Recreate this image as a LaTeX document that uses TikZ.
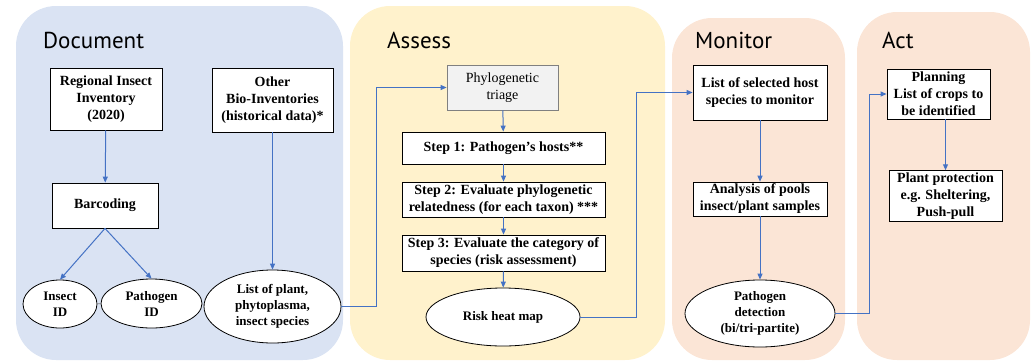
\documentclass[tikz,border=0pt]{standalone}
\usepackage{fontspec}
\setmainfont{Liberation Serif}
\newfontfamily\headfont{PT Sans}
\usetikzlibrary{arrows.meta,positioning,shapes.geometric}
\definecolor{docblue}{HTML}{DAE3F3}
\definecolor{assyellow}{HTML}{FFF2CC}
\definecolor{monpeach}{HTML}{FBE5D6}
\definecolor{flowblue}{HTML}{4472C4}
\definecolor{triagegray}{HTML}{F2F2F2}
\tikzset{
    panel/.style={rounded corners=40pt},
    phase/.style={anchor=base west, inner sep=0pt, font=\headfont\fontsize{23}{23}\selectfont},
    stepbox/.style={rectangle, draw, fill=white, line width=0.8pt, align=center, inner sep=2pt,
                    font=\bfseries\fontsize{14}{17}\selectfont},
    oval/.style={ellipse, draw, fill=white, line width=0.8pt, align=center, inner sep=0pt,
                 font=\bfseries\fontsize{13}{16}\selectfont},
    flow/.style={draw=flowblue, line width=1pt, -{Triangle[length=6pt, width=5pt]}},
    tie/.style={draw=gray, line width=0.6pt}
}

\begin{document}
\begin{tikzpicture}[x=1pt, y=-1pt]
    \useasboundingbox (0,0) rectangle (1035,362);
    % Panels
    \fill[docblue, panel] (16,6) rectangle (343,360);
    \fill[assyellow, panel] (350,6) rectangle (665,360);
    \fill[monpeach, panel] (672,18) rectangle (845,360);
    \fill[monpeach, panel] (857,12) rectangle (1030,360);

    \node[phase] (tdoc) at (43,48) {Document};
    \node[phase] (tass) at (387,48) {Assess};
    \node[phase] (tmon) at (695,48) {Monitor};
    \node[phase] (tact) at (882,48) {Act};

    % Document
    \node[stepbox, minimum width=112pt, minimum height=62pt] (reg) at (106,99) {Regional Insect\\Inventory\\(2020)};
    \node[stepbox, minimum width=121pt, minimum height=64pt] (other) at (272.5,100) {Other\\Bio-Inventories\\(historical data)*};
    \node[stepbox, minimum width=106pt, minimum height=45pt] (bar) at (105,205.5) {Barcoding};
    \node[oval, minimum width=74pt, minimum height=48pt] (insect) at (60,304) {Insect\\ID};
    \node[oval, minimum width=101pt, minimum height=49pt] (pathid) at (151.5,303.5) {Pathogen\\ID};
    \node[oval, minimum width=137pt, minimum height=73pt] (list) at (272.5,306.5) {List of plant,\\phytoplasma,\\insect species};

    % Assess
    \node[stepbox, fill=triagegray, draw=gray, font=\fontsize{14}{17}\selectfont,
          minimum width=111pt, minimum height=45pt] (triage) at (502.5,87.5) {Phylogenetic\\triage};
    \node[stepbox, minimum width=203pt, minimum height=32pt] (step1) at (503.5,148) {Step 1: Pathogen’s hosts**};
    \node[stepbox, minimum width=203pt, minimum height=35pt] (step2) at (503.5,199.5) {Step 2: Evaluate phylogenetic\\relatedness (for each taxon) ***};
    \node[stepbox, minimum width=203pt, minimum height=36pt] (step3) at (503.5,253) {Step 3: Evaluate the category of\\species (risk assessment)};
    \node[oval, minimum width=154pt, minimum height=58pt] (risk) at (503,317) {Risk heat map};

    % Monitor
    \node[stepbox, minimum width=134pt, minimum height=55pt] (select) at (760,92.5) {List of selected host\\species to monitor};
    \node[stepbox, minimum width=134pt, minimum height=32pt] (pool) at (760,199) {Analysis of pools\\insect/plant samples};
    \node[oval, minimum width=150pt, minimum height=67pt] (detect) at (760,313.5) {Pathogen\\detection\\(bi/tri-partite)};

    % Act
    \node[stepbox, minimum width=103pt, minimum height=50pt] (plan) at (938.5,94) {Planning\\List of crops to\\be identified};
    \node[stepbox, minimum width=113pt, minimum height=50pt] (protect) at (945.5,196) {Plant protection\\e.g. Sheltering,\\Push-pull};

    % edges
    \draw[flow] (reg) -- (bar);
    \draw[flow] (bar.south) -- (insect.north);
    \draw[flow] (bar.south) -- (pathid.north);
    \draw[flow] (other.south) -- (list.north);
    \draw[tie] (insect) -- (pathid);
    \draw[tie] (pathid) -- (list);
    \draw[flow] (list.east) -- ++(35,0) |- (triage.west);
    \draw[flow] (triage) -- (step1);
    \draw[flow] (step1) -- (step2);
    \draw[flow] (step2) -- (step3);
    \draw[flow] (step3) -- (risk);
    \draw[flow] (risk.east) -- ++(56,0) |- (select.west);
    \draw[flow] (select) -- (pool);
    \draw[flow] (pool) -- (detect);
    \draw[flow] (detect.east) -- ++(34,0) |- (plan.west);
    \draw[flow] (plan.south -| protect.north) -- (protect.north);
\end{tikzpicture}
\end{document}
